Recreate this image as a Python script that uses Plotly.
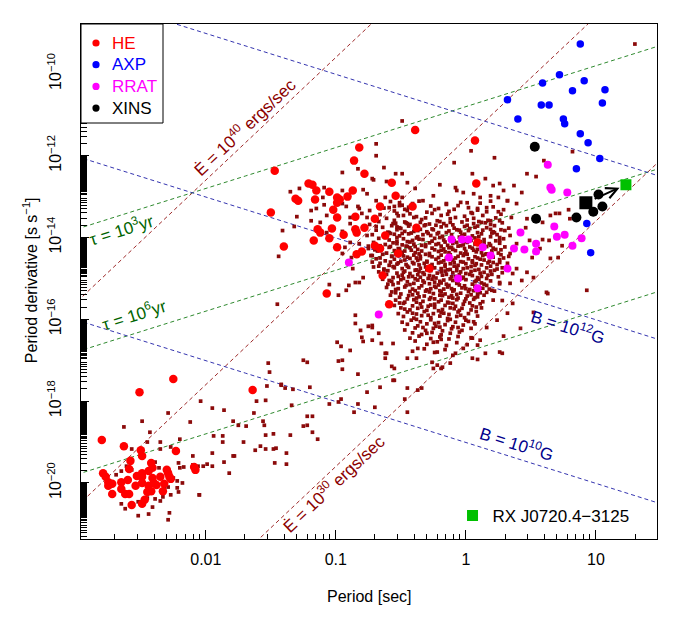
import numpy as np
import plotly.graph_objects as go

# ---------------- data: (log10 P [s], log10 Pdot [s/s]) ----------------
he_pts = [
    (-0.82, -11.80), (-0.86, -12.12), (-0.78, -12.44), (-1.47, -12.37), (-1.21, -12.68), (-1.18, -12.71),
    (-1.15, -12.85), (-1.05, -12.88), (-0.87, -12.85), (-0.57, -12.66), (-0.54, -12.98), (-1.31, -13.05),
    (-1.29, -13.10), (-1.16, -13.07), (-0.99, -13.02), (-0.97, -13.07), (-0.99, -13.15), (-0.91, -13.00),
    (-0.66, -13.24), (-1.02, -13.32), (-1.50, -13.39), (-0.99, -13.51), (-0.85, -13.49), (-0.70, -13.54),
    (-0.78, -13.76), (-1.03, -13.78), (-1.14, -13.80), (-1.12, -13.88), (-0.85, -13.80), (-0.84, -13.88),
    (-0.94, -13.93), (-1.05, -14.02), (-1.17, -14.07), (-0.62, -13.95), (-0.70, -14.20), (-1.40, -14.22),
    (-0.99, -14.24), (-0.66, -14.27), (-0.80, -14.34), (-0.84, -14.41), (-0.52, -14.39), (-0.39, -11.37),
    (0.07, -11.63), (0.08, -12.68), (-0.41, -13.24), (-0.38, -13.76), (-0.28, -14.76), (-0.64, -14.93),
    (-0.59, -15.63), (0.09, -14.12), (-1.07, -15.37),
    (-2.25, -17.46), (-2.51, -17.78), (-1.64, -17.73), (-2.80, -18.95), (-2.63, -19.10), (-2.50, -19.20),
    (-2.49, -19.34), (-2.23, -19.22), (-2.58, -19.46), (-2.42, -19.51), (-2.44, -19.71), (-2.41, -19.63),
    (-2.59, -19.66), (-2.79, -19.76), (-2.77, -19.85), (-2.75, -19.98), (-2.72, -20.02), (-2.53, -19.83),
    (-2.49, -19.76), (-2.49, -19.85), (-2.30, -19.68), (-2.29, -19.76), (-2.28, -19.85), (-2.27, -19.90),
    (-2.65, -19.98), (-2.60, -19.93), (-2.41, -19.88), (-2.40, -20.00), (-2.35, -19.85), (-2.49, -20.00),
    (-2.54, -20.07), (-2.44, -20.07), (-2.38, -20.05), (-2.32, -20.02), (-2.65, -20.15), (-2.45, -20.22),
    (-2.42, -20.20), (-2.33, -20.20), (-2.09, -19.61), (-2.08, -19.68), (-2.72, -20.27), (-2.62, -20.27),
    (-2.59, -20.27), (-2.47, -20.41), (-2.57, -20.54), (-2.49, -20.51), (-2.75, -20.07),
]
axp_pts = [
    (0.88, -9.27), (0.72, -10.02), (0.59, -10.22), (0.91, -10.17), (0.82, -10.41), (1.07, -10.39),
    (0.32, -10.63), (0.58, -10.76), (0.64, -10.76), (1.05, -10.71), (0.40, -11.10), (0.75, -11.10),
    (0.76, -11.22), (0.88, -11.46), (0.94, -11.68), (1.03, -12.07), (0.85, -12.32), (0.93, -13.66),
    (0.96, -14.37),
]
rrat_pts = [
    (0.63, -12.22), (0.65, -12.78), (0.66, -12.83), (0.78, -12.90), (0.68, -13.73), (0.42, -13.88),
    (0.70, -13.98), (0.76, -13.93), (0.89, -14.02), (0.82, -14.20), (0.54, -14.15), (0.54, -14.34),
    (0.37, -14.27), (0.45, -14.29), (0.13, -14.24), (0.19, -14.44), (-0.11, -14.05), (-0.03, -14.05),
    (0.02, -14.05), (0.32, -14.76), (-0.06, -15.00), (0.09, -15.24), (-0.13, -14.49), (-0.90, -14.61),
    (-0.67, -15.88),
]
xins_pts = [
    (0.53, -11.78), (0.54, -13.54), (0.85, -13.51), (1.02, -12.95), (0.98, -13.37), (1.05, -13.24),
]
rxj_observed = [(0.923, -13.15)]
rxj_implied = [(1.231, -12.71)]

msp_pts = [
    (-2.63, -18.63), (-2.49, -18.49), (-2.29, -18.29), (-2.04, -18.00), (-1.95, -18.17), (-1.86, -18.22),
    (-2.12, -18.51), (-2.43, -18.76), (-2.35, -19.00), (-2.20, -18.93), (-2.45, -19.00), (-2.57, -19.17),
    (-2.35, -19.17), (-2.27, -19.12), (-2.50, -19.37), (-2.69, -19.80), (-2.65, -19.71), (-2.61, -19.59),
    (-2.57, -19.68), (-2.39, -19.49), (-2.36, -19.63), (-2.21, -19.51), (-2.17, -19.61), (-2.10, -19.56),
    (-2.06, -19.59), (-2.20, -19.63), (-2.25, -19.88), (-2.22, -19.95), (-2.18, -20.00), (-2.32, -20.12),
    (-2.29, -20.10), (-2.22, -20.12), (-2.21, -20.22), (-2.05, -20.29), (-2.27, -20.29), (-2.33, -20.34),
    (-2.42, -20.24), (-2.45, -20.37), (-2.39, -20.39), (-2.35, -20.44), (-2.41, -20.59), (-2.52, -20.46),
    (-2.65, -20.51), (-2.62, -20.63), (-2.52, -20.80), (-2.44, -20.76), (-2.28, -20.73), (-2.29, -20.90),
    (-2.10, -19.34), (-2.02, -19.59), (-1.95, -19.59), (-1.79, -18.49), (-1.75, -18.59), (-1.69, -18.61),
    (-1.63, -18.29), (-1.61, -18.00), (-1.54, -17.98), (-1.52, -17.07), (-1.51, -17.29), (-1.53, -17.63),
    (-1.56, -18.49), (-1.55, -18.59), (-1.48, -18.80), (-1.54, -18.83), (-1.87, -18.85), (-1.94, -18.85),
    (-1.71, -19.00), (-1.62, -19.20), (-1.58, -19.10), (-1.54, -19.17), (-1.48, -19.17), (-1.87, -19.00),
    (-1.95, -19.27), (-1.79, -19.34), (-1.78, -19.34), (-1.86, -19.49), (-1.82, -19.76), (-1.99, -19.54),
    (-2.05, -20.29), (-1.46, -19.15), (-1.47, -19.51),
]
mid_pts = [
    (-1.45, -15.63), (-1.25, -17.00), (-1.22, -17.05), (-0.99, -16.56), (-0.96, -16.66), (-0.98, -17.02),
    (-0.95, -17.00), (-0.95, -17.22), (-0.83, -17.34), (-1.20, -17.66), (-1.42, -17.59), (-1.39, -17.68),
    (-1.34, -18.10), (-1.22, -18.37), (-1.18, -18.37), (-1.05, -18.07), (-0.96, -17.95), (-0.86, -18.27),
    (-0.76, -17.78), (-0.70, -18.15), (-0.66, -17.66), (-0.56, -17.49), (-0.45, -17.68), (-0.34, -17.68),
    (-0.47, -17.95), (-0.90, -15.17), (-1.05, -15.15), (-0.98, -15.41), (-0.82, -15.10), (-0.85, -15.90),
    (-0.85, -16.10), (-0.81, -16.27), (-0.79, -16.54), (-0.75, -16.17), (-0.72, -16.15), (-0.67, -16.34),
    (-0.65, -16.59), (-0.62, -16.83), (-0.62, -16.95), (-0.57, -17.15), (-0.55, -17.20), (-0.55, -17.49),
    (-0.45, -16.95), (-0.38, -16.95), (-0.37, -16.71), (-0.30, -16.34), (-0.25, -16.56), (-0.19, -16.49),
    (-0.25, -17.20), (-0.22, -17.12), (-0.18, -17.17), (-0.10, -16.88), (-1.42, -17.61), (-1.33, -17.71),
    (-1.35, -18.83), (-1.25, -18.61), (-1.22, -18.59), (-1.18, -18.76), (-1.14, -18.93), (-1.38, -19.27),
    (-1.38, -19.54), (-0.98, -18.02), (-0.83, -18.07), (-0.45, -18.27), (-0.37, -17.73), (-0.12, -17.07),
    (-0.26, -17.05),
]
young_pts = [
    (-0.69, -11.71), (-0.69, -12.00), (-0.63, -12.29), (-0.83, -12.32), (-0.95, -12.41), (-0.72, -12.56),
    (-0.71, -12.59), (-0.54, -12.44), (-0.49, -12.44), (-0.61, -12.63), (-1.35, -12.88), (-1.28, -12.80),
    (-1.09, -12.78), (-1.10, -13.02), (-0.95, -12.85), (-0.79, -12.83), (-0.76, -12.93), (-0.69, -13.10),
    (-0.62, -13.02), (-0.49, -13.02), (-0.51, -13.15), (-1.09, -13.20), (-1.19, -13.34), (-1.15, -13.29),
    (-0.92, -13.24), (-0.83, -13.24), (-0.80, -13.41), (-1.30, -13.49), (-1.07, -13.46), (-0.74, -13.34),
    (-0.59, -13.27), (-0.55, -13.24), (-0.53, -13.41), (-0.48, -13.46), (-0.45, -13.34), (-1.19, -13.59),
    (-1.12, -13.63), (-0.89, -13.66), (-0.74, -13.68), (-0.69, -13.73), (-0.56, -13.66), (-0.51, -13.76),
    (-0.45, -13.66), (-1.41, -13.83), (-1.32, -13.73), (-1.07, -13.88), (-0.95, -13.85), (-0.76, -13.95),
    (-0.59, -13.88), (-0.53, -14.00), (-0.49, -13.90), (-0.89, -14.12), (-0.82, -14.15), (-0.75, -14.27),
    (-0.52, -14.27), (-0.45, -14.22), (-1.44, -14.46), (-0.95, -14.39), (-0.88, -14.49), (-0.72, -14.44),
    (-0.57, -14.46), (-0.49, -14.39), (-0.49, -11.15), (-0.95, -13.17), (-0.89, -13.51), (-0.82, -13.29),
    (-0.76, -13.51), (-0.93, -14.24), (-0.87, -14.76), (-0.79, -14.98), (-0.85, -15.10), (-0.92, -15.29),
    (-0.72, -16.20), (-0.80, -16.44), (-0.72, -16.51), (-0.89, -16.76), (-0.61, -16.83), (-0.56, -16.59),
    (-0.45, -12.66), (-0.39, -12.80), (-0.20, -12.71), (-0.07, -12.85), (-0.25, -12.98), (-0.33, -13.10),
    (-0.15, -13.17), (0.01, -13.15), (0.16, -13.27), (0.32, -13.10), (-0.51, -13.22),
]
right_pts = [
    (0.22, -12.05), (0.05, -12.44), (0.15, -12.56), (0.21, -12.73), (0.26, -12.68), (0.29, -12.85),
    (0.37, -12.73), (0.43, -12.90), (0.47, -12.44), (0.54, -12.51), (0.60, -12.12), (-0.09, -12.17),
    (-0.08, -12.78), (-0.02, -12.90), (0.06, -12.93), (0.11, -13.02), (0.19, -12.98), (0.25, -13.02),
    (0.32, -13.10), (0.39, -13.17), (0.09, -13.29), (0.16, -13.37), (0.29, -13.32), (0.35, -13.51),
    (0.26, -13.59), (0.19, -13.59), (0.12, -13.63), (0.47, -13.54), (0.59, -13.63), (0.65, -13.46),
    (0.72, -13.41), (0.79, -13.32), (0.69, -13.41), (0.80, -13.54), (0.46, -13.76), (0.30, -13.83),
    (0.22, -13.88), (0.59, -14.05), (0.64, -14.07), (0.49, -14.07), (0.39, -14.15), (0.26, -14.07),
    (0.74, -14.20), (0.57, -14.27), (0.51, -14.49), (0.65, -14.51), (0.71, -14.49), (0.34, -14.39),
    (0.26, -14.61), (0.39, -14.76), (0.47, -14.85), (0.52, -14.98), (0.62, -15.34), (0.93, -15.29),
    (0.34, -15.12), (0.20, -15.29), (0.26, -15.10), (0.36, -14.88), (0.43, -15.05), (0.28, -15.54),
    (0.36, -15.61), (0.24, -16.02), (0.16, -16.20), (0.29, -16.41), (0.11, -16.51), (0.26, -16.80),
    (0.15, -16.83), (0.05, -16.95), (0.63, -15.37), (0.42, -16.22), (0.28, -16.83), (0.09, -16.98),
    (-0.19, -17.20), (0.52, -15.83), (0.32, -15.85), (0.09, -16.63), (0.05, -16.46), (-0.02, -16.71),
    (-0.22, -16.80), (1.30, -9.27), (0.82, -11.90), (0.04, -11.88),
]
core_pts = [
    (-0.58, -13.12), (-0.41, -13.17), (-0.36, -13.11), (-0.15, -13.19), (-0.04, -13.14), (0.11, -13.16), (0.19, -13.11),
    (-0.63, -13.28), (-0.49, -13.21), (-0.44, -13.26), (-0.27, -13.23), (-0.21, -13.29), (-0.06, -13.22), (0.02, -13.27), (0.21, -13.25),
    (-0.55, -13.35), (-0.47, -13.31), (-0.30, -13.38), (-0.24, -13.32), (-0.13, -13.36), (-0.09, -13.31), (0.04, -13.39), (0.09, -13.33), (0.25, -13.37),
    (-0.66, -13.44), (-0.52, -13.47), (-0.43, -13.42), (-0.38, -13.49), (-0.26, -13.41), (-0.19, -13.46), (-0.14, -13.43), (-0.01, -13.48), (0.05, -13.41), (0.13, -13.46), (0.27, -13.43),
    (-0.61, -13.53), (-0.55, -13.58), (-0.40, -13.51), (-0.34, -13.56), (-0.31, -13.52), (-0.22, -13.59), (-0.12, -13.54), (-0.08, -13.51), (0.01, -13.57), (0.06, -13.53), (0.17, -13.58), (0.23, -13.52),
    (-0.67, -13.61), (-0.54, -13.65), (-0.47, -13.62), (-0.43, -13.68), (-0.35, -13.63), (-0.28, -13.67), (-0.20, -13.61), (-0.17, -13.66), (-0.10, -13.69), (-0.03, -13.62), (0.06, -13.66), (0.10, -13.61), (0.19, -13.68), (0.28, -13.64),
    (-0.64, -13.75), (-0.57, -13.71), (-0.50, -13.78), (-0.44, -13.72), (-0.39, -13.76), (-0.32, -13.71), (-0.26, -13.79), (-0.19, -13.74), (-0.15, -13.71), (-0.09, -13.77), (-0.01, -13.73), (0.03, -13.78), (0.09, -13.72), (0.16, -13.76), (0.22, -13.71), (0.33, -13.77),
    (-0.69, -13.82), (-0.60, -13.87), (-0.53, -13.81), (-0.47, -13.85), (-0.42, -13.89), (-0.37, -13.83), (-0.30, -13.86), (-0.25, -13.81), (-0.21, -13.88), (-0.13, -13.84), (-0.07, -13.81), (-0.04, -13.87), (0.02, -13.83), (0.09, -13.88), (0.13, -13.82), (0.21, -13.86), (0.27, -13.81),
    (-0.72, -13.93), (-0.63, -13.97), (-0.55, -13.92), (-0.51, -13.96), (-0.44, -13.91), (-0.37, -13.98), (-0.33, -13.93), (-0.27, -13.95), (-0.22, -13.91), (-0.18, -13.97), (-0.11, -13.93), (-0.05, -13.99), (-0.01, -13.92), (0.05, -13.96), (0.12, -13.91), (0.19, -13.98), (0.24, -13.93), (0.34, -13.95),
    (-0.67, -14.02), (-0.59, -14.06), (-0.53, -14.09), (-0.48, -14.03), (-0.41, -14.07), (-0.38, -14.01), (-0.33, -14.05), (-0.26, -14.09), (-0.24, -14.02), (-0.17, -14.06), (-0.12, -14.01), (-0.09, -14.08), (-0.03, -14.04), (0.04, -14.07), (0.07, -14.01), (0.14, -14.05), (0.23, -14.08), (0.29, -14.03),
    (-0.71, -14.12), (-0.62, -14.17), (-0.56, -14.13), (-0.49, -14.18), (-0.43, -14.11), (-0.40, -14.16), (-0.34, -14.19), (-0.28, -14.13), (-0.23, -14.17), (-0.16, -14.11), (-0.14, -14.19), (-0.10, -14.14), (-0.02, -14.18), (0.01, -14.12), (0.07, -14.16), (0.14, -14.13), (0.19, -14.19), (0.26, -14.14),
    (-0.75, -14.21), (-0.65, -14.26), (-0.58, -14.22), (-0.51, -14.28), (-0.46, -14.21), (-0.43, -14.25), (-0.37, -14.29), (-0.31, -14.22), (-0.26, -14.26), (-0.19, -14.21), (-0.17, -14.28), (-0.11, -14.24), (-0.06, -14.21), (-0.01, -14.27), (0.03, -14.23), (0.09, -14.29), (0.16, -14.22), (0.21, -14.26), (0.30, -14.23),
    (-0.68, -14.33), (-0.61, -14.38), (-0.55, -14.32), (-0.49, -14.36), (-0.42, -14.31), (-0.39, -14.37), (-0.34, -14.33), (-0.28, -14.39), (-0.21, -14.34), (-0.19, -14.31), (-0.13, -14.37), (-0.08, -14.32), (-0.04, -14.38), (0.00, -14.34), (0.06, -14.31), (0.12, -14.37), (0.20, -14.33), (0.25, -14.38),
    (-0.73, -14.44), (-0.64, -14.41), (-0.57, -14.46), (-0.51, -14.42), (-0.45, -14.48), (-0.40, -14.43), (-0.35, -14.46), (-0.31, -14.41), (-0.26, -14.47), (-0.19, -14.43), (-0.14, -14.49), (-0.12, -14.42), (-0.06, -14.46), (0.01, -14.41), (0.07, -14.47), (0.13, -14.44), (0.21, -14.48), (0.27, -14.42), (0.33, -14.46),
    (-0.69, -14.52), (-0.62, -14.57), (-0.55, -14.53), (-0.50, -14.58), (-0.43, -14.51), (-0.37, -14.56), (-0.35, -14.52), (-0.30, -14.58), (-0.23, -14.53), (-0.17, -14.57), (-0.15, -14.51), (-0.10, -14.55), (-0.04, -14.59), (0.02, -14.52), (0.05, -14.57), (0.11, -14.53), (0.18, -14.58), (0.26, -14.54),
    (-0.66, -14.63), (-0.59, -14.68), (-0.52, -14.62), (-0.46, -14.66), (-0.41, -14.61), (-0.36, -14.67), (-0.32, -14.63), (-0.27, -14.69), (-0.21, -14.62), (-0.16, -14.66), (-0.09, -14.61), (-0.06, -14.68), (0.00, -14.64), (0.05, -14.61), (0.12, -14.67), (0.17, -14.62), (0.24, -14.66), (0.32, -14.63),
    (-0.71, -14.72), (-0.63, -14.77), (-0.56, -14.71), (-0.49, -14.76), (-0.44, -14.73), (-0.38, -14.79), (-0.31, -14.72), (-0.29, -14.77), (-0.24, -14.74), (-0.16, -14.71), (-0.12, -14.78), (-0.07, -14.73), (-0.02, -14.76), (0.04, -14.71), (0.10, -14.78), (0.16, -14.74), (0.24, -14.77),
    (-0.67, -14.84), (-0.60, -14.81), (-0.53, -14.87), (-0.47, -14.82), (-0.43, -14.88), (-0.36, -14.83), (-0.33, -14.86), (-0.27, -14.81), (-0.22, -14.87), (-0.16, -14.82), (-0.10, -14.86), (-0.07, -14.81), (0.00, -14.88), (0.04, -14.83), (0.11, -14.87), (0.19, -14.82), (0.28, -14.86),
    (-0.63, -14.93), (-0.56, -14.98), (-0.49, -14.92), (-0.44, -14.96), (-0.37, -14.91), (-0.35, -14.97), (-0.28, -14.93), (-0.23, -14.99), (-0.18, -14.92), (-0.11, -14.96), (-0.05, -14.91), (-0.02, -14.97), (0.05, -14.93), (0.09, -14.98), (0.17, -14.92), (0.25, -14.96),
    (-0.64, -15.02), (-0.57, -15.07), (-0.50, -15.03), (-0.45, -15.08), (-0.39, -15.01), (-0.33, -15.06), (-0.26, -15.02), (-0.24, -15.09), (-0.17, -15.04), (-0.12, -15.01), (-0.06, -15.07), (0.00, -15.03), (0.07, -15.08), (0.10, -15.02), (0.19, -15.06),
    (-0.60, -15.14), (-0.52, -15.11), (-0.46, -15.17), (-0.40, -15.12), (-0.34, -15.18), (-0.28, -15.13), (-0.21, -15.16), (-0.19, -15.11), (-0.13, -15.17), (-0.07, -15.12), (-0.01, -15.18), (0.05, -15.14), (0.12, -15.11), (0.16, -15.17), (0.26, -15.13),
    (-0.61, -15.22), (-0.54, -15.27), (-0.47, -15.21), (-0.41, -15.26), (-0.36, -15.23), (-0.30, -15.28), (-0.23, -15.22), (-0.17, -15.26), (-0.14, -15.21), (-0.09, -15.28), (-0.03, -15.23), (0.03, -15.27), (0.10, -15.22), (0.18, -15.26),
    (-0.57, -15.33), (-0.50, -15.38), (-0.43, -15.32), (-0.37, -15.36), (-0.31, -15.31), (-0.25, -15.37), (-0.19, -15.33), (-0.16, -15.38), (-0.10, -15.31), (-0.04, -15.36), (0.02, -15.32), (0.09, -15.38), (0.16, -15.34), (0.22, -15.31),
    (-0.58, -15.41), (-0.51, -15.46), (-0.44, -15.42), (-0.38, -15.48), (-0.32, -15.43), (-0.27, -15.47), (-0.20, -15.41), (-0.13, -15.46), (-0.11, -15.42), (-0.06, -15.48), (0.01, -15.43), (0.07, -15.47), (0.14, -15.41),
    (-0.54, -15.53), (-0.47, -15.58), (-0.40, -15.52), (-0.33, -15.56), (-0.28, -15.51), (-0.21, -15.57), (-0.19, -15.53), (-0.14, -15.58), (-0.07, -15.52), (-0.01, -15.56), (0.06, -15.51), (0.13, -15.57), (0.21, -15.53),
    (-0.55, -15.66), (-0.48, -15.61), (-0.41, -15.67), (-0.35, -15.62), (-0.29, -15.68), (-0.24, -15.63), (-0.16, -15.66), (-0.10, -15.61), (-0.08, -15.68), (-0.02, -15.63), (0.05, -15.67), (0.11, -15.62),
    (-0.50, -15.72), (-0.43, -15.77), (-0.37, -15.73), (-0.30, -15.78), (-0.24, -15.71), (-0.18, -15.76), (-0.12, -15.72), (-0.05, -15.78), (-0.03, -15.73), (0.04, -15.77), (0.12, -15.72),
    (-0.52, -15.86), (-0.45, -15.82), (-0.38, -15.87), (-0.32, -15.81), (-0.25, -15.86), (-0.19, -15.83), (-0.13, -15.88), (-0.06, -15.82), (0.02, -15.86), (0.08, -15.81),
    (-0.48, -15.93), (-0.40, -15.97), (-0.34, -15.91), (-0.27, -15.96), (-0.20, -15.92), (-0.14, -15.98), (-0.07, -15.93), (-0.01, -15.96), (0.09, -15.92),
    (-0.49, -16.07), (-0.42, -16.02), (-0.35, -16.06), (-0.27, -16.01), (-0.21, -16.08), (-0.14, -16.03), (-0.08, -16.07), (0.00, -16.02), (0.06, -16.06),
    (-0.45, -16.12), (-0.37, -16.16), (-0.30, -16.11), (-0.23, -16.17), (-0.16, -16.13), (-0.10, -16.18), (-0.02, -16.14), (0.07, -16.11),
    (-0.47, -16.26), (-0.39, -16.21), (-0.31, -16.27), (-0.25, -16.22), (-0.18, -16.28), (-0.11, -16.23), (-0.03, -16.27), (0.04, -16.22),
    (-0.41, -16.33), (-0.34, -16.37), (-0.26, -16.32), (-0.19, -16.38), (-0.12, -16.34), (-0.05, -16.31),
    (-0.43, -16.46), (-0.36, -16.41), (-0.27, -16.47), (-0.20, -16.43), (-0.13, -16.48), (-0.06, -16.42), (0.04, -16.45),
    (-0.39, -16.53), (-0.30, -16.61), (-0.22, -16.55), (-0.15, -16.64), (-0.07, -16.57), (0.01, -16.62),
    (-0.41, -16.78), (-0.32, -16.72), (-0.24, -16.81), (-0.16, -16.74), (-0.08, -16.83),
]
core_fill_pts = [
    (-0.46, -13.64), (-0.31, -13.69), (-0.12, -13.63), (0.01, -13.70), (0.15, -13.64),
    (-0.53, -13.74), (-0.35, -13.80), (-0.23, -13.70), (-0.05, -13.82), (0.07, -13.75), (0.19, -13.80),
    (-0.58, -13.90), (-0.40, -13.85), (-0.29, -13.90), (-0.15, -13.88), (-0.03, -13.95), (0.10, -13.98), (0.20, -13.89),
    (-0.62, -14.00), (-0.45, -14.10), (-0.36, -14.04), (-0.20, -14.00), (-0.07, -14.12), (0.00, -14.09), (0.11, -14.10), (0.26, -14.00),
    (-0.66, -14.20), (-0.53, -14.15), (-0.39, -14.22), (-0.31, -14.18), (-0.21, -14.15), (-0.13, -14.25), (-0.04, -14.20), (0.05, -14.26), (0.18, -14.15), (0.27, -14.30),
    (-0.70, -14.30), (-0.59, -14.24), (-0.47, -14.33), (-0.36, -14.40), (-0.24, -14.30), (-0.16, -14.35), (-0.10, -14.29), (-0.01, -14.40), (0.08, -14.35), (0.15, -14.41), (0.23, -14.29),
    (-0.66, -14.50), (-0.54, -14.40), (-0.48, -14.45), (-0.38, -14.50), (-0.28, -14.44), (-0.21, -14.49), (-0.08, -14.50), (-0.02, -14.44), (0.09, -14.50), (0.16, -14.40), (0.29, -14.50),
    (-0.72, -14.60), (-0.58, -14.60), (-0.47, -14.55), (-0.40, -14.64), (-0.30, -14.60), (-0.19, -14.60), (-0.12, -14.64), (-0.02, -14.60), (0.08, -14.64), (0.14, -14.55), (0.21, -14.61),
    (-0.67, -14.70), (-0.53, -14.65), (-0.45, -14.70), (-0.35, -14.75), (-0.26, -14.66), (-0.19, -14.76), (-0.09, -14.70), (0.01, -14.74), (0.07, -14.68), (0.19, -14.70), (0.28, -14.74),
    (-0.63, -14.80), (-0.55, -14.74), (-0.48, -14.85), (-0.39, -14.80), (-0.30, -14.79), (-0.19, -14.84), (-0.14, -14.79), (-0.04, -14.84), (0.07, -14.80), (0.14, -14.85), (0.22, -14.80),
    (-0.61, -14.90), (-0.52, -14.95), (-0.41, -14.95), (-0.32, -14.90), (-0.25, -14.95), (-0.15, -14.90), (-0.08, -14.95), (0.03, -14.90), (0.12, -14.95), (0.20, -14.90),
    (-0.59, -15.05), (-0.48, -15.00), (-0.37, -15.04), (-0.29, -15.00), (-0.20, -15.07), (-0.10, -15.05), (-0.03, -15.00), (0.08, -15.05), (0.16, -15.00),
    (-0.56, -15.15), (-0.43, -15.15), (-0.32, -15.10), (-0.24, -15.19), (-0.15, -15.14), (-0.05, -15.16), (0.07, -15.19), (0.14, -15.14),
    (-0.52, -15.25), (-0.39, -15.30), (-0.27, -15.25), (-0.20, -15.30), (-0.11, -15.25), (0.00, -15.25), (0.06, -15.30), (0.13, -15.24),
    (-0.54, -15.35), (-0.41, -15.40), (-0.28, -15.33), (-0.18, -15.42), (-0.07, -15.39), (0.04, -15.40), (0.11, -15.35),
    (-0.45, -15.50), (-0.36, -15.45), (-0.24, -15.50), (-0.10, -15.48), (0.00, -15.50), (0.09, -15.45),
    (-0.51, -15.60), (-0.38, -15.58), (-0.27, -15.65), (-0.13, -15.60), (0.03, -15.60),
    (-0.47, -15.75), (-0.34, -15.70), (-0.21, -15.79), (-0.09, -15.74), (0.08, -15.70),
    (-0.41, -15.85), (-0.29, -15.90), (-0.17, -15.85), (-0.04, -15.90),
    (-0.38, -16.00), (-0.24, -16.10), (-0.12, -16.00), (0.02, -16.05),
    (-0.33, -16.20), (-0.20, -16.19), (-0.06, -16.20),
]

# reference lines
tau_years = [1e3, 1e6, 1e9]
b_fields = [1e10, 1e12, 1e14]
edot_values = [1e30, 1e35, 1e40]

x_ticks = [0.01, 0.1, 1, 10]
x_tick_text = ["0.01", "0.1", "1", "10"]
y_exponents = [10, 12, 14, 16, 18, 20]

legend_names = ["HE", "AXP", "RRAT", "XINS"]
legend_colors = ["#FF0000", "#0000FF", "#FF00FF", "#000000"]

# ---------------- figure ----------------
FONT = "Liberation Sans, Arial, Helvetica, sans-serif"
C_EDOT, C_TAU, C_B = "#9E2A2A", "#2F8A2F", "#3535B0"
T_EDOT, T_TAU, T_B = "#8B0000", "#006400", "#00008B"

PLOT_W, PLOT_H = 576, 515   # plot-area size in px


def unpack(pts):
    a = np.array(pts, dtype=float)
    return 10 ** a[:, 0], 10 ** a[:, 1]


fig = go.Figure()

P = np.logspace(-3.3, 1.8, 300)
dash = "4px,3px"
for e in edot_values:
    fig.add_trace(go.Scatter(x=P, y=e * P ** 3 / (4 * np.pi ** 2 * 1e45), mode="lines",
                             line=dict(color=C_EDOT, width=1, dash=dash), showlegend=False, hoverinfo="skip"))
for t in tau_years:
    fig.add_trace(go.Scatter(x=P, y=P / (2 * t * 3.156e7), mode="lines",
                             line=dict(color=C_TAU, width=1, dash=dash), showlegend=False, hoverinfo="skip"))
for b in b_fields:
    fig.add_trace(go.Scatter(x=P, y=(b / 3.2e19) ** 2 / P, mode="lines",
                             line=dict(color=C_B, width=1, dash=dash), showlegend=False, hoverinfo="skip"))

all_small = msp_pts + mid_pts + young_pts + right_pts + core_pts + core_fill_pts
sx, sy = unpack(all_small)
fig.add_trace(go.Scatter(x=sx, y=sy, mode="markers", showlegend=False, hoverinfo="skip",
                         marker=dict(symbol="square", size=3.7, color="#8B0A0A", line=dict(width=0))))

groups = [
    ("HE", he_pts, "#FF0000", 8.5),
    ("AXP", axp_pts, "#0000FF", 7.5),
    ("RRAT", rrat_pts, "#FF00FF", 8),
    ("XINS", xins_pts, "#000000", 10),
]
for name, pts, col, sz in groups:
    gx, gy = unpack(pts)
    fig.add_trace(go.Scatter(x=gx, y=gy, mode="markers", name=name, showlegend=False,
                             marker=dict(color=col, size=sz, line=dict(width=0))))

ox, oy = unpack(rxj_observed)
fig.add_trace(go.Scatter(x=ox, y=oy, mode="markers", showlegend=False,
                         marker=dict(symbol="square", color="black", size=13, line=dict(width=0))))
ix, iy = unpack(rxj_implied)
fig.add_trace(go.Scatter(x=ix, y=iy, mode="markers", name="RX J0720.4\u22123125", legend="legend2",
                         marker=dict(symbol="square", color="#00C000", size=11, line=dict(width=0))))

annotations = [
    dict(x=rxj_implied[0][0], y=rxj_implied[0][1], ax=rxj_observed[0][0], ay=rxj_observed[0][1],
         xref="x", yref="y", axref="x", ayref="y", text="", showarrow=True,
         arrowhead=5, arrowsize=1.1, arrowwidth=2, arrowcolor="black", standoff=7, startstandoff=8),
    dict(x=-1.71, y=-11.29, text="\u0116 = 10<sup>40</sup> ergs/sec", textangle=-43.4,
         font=dict(color=T_EDOT, size=17, family=FONT), showarrow=False, xref="x", yref="y"),
    dict(x=-1.02, y=-20.0, text="\u0116 = 10<sup>30</sup> ergs/sec", textangle=-43.4,
         font=dict(color=T_EDOT, size=17, family=FONT), showarrow=False, xref="x", yref="y"),
    dict(x=-2.65, y=-13.78, text="\u03c4 = 10<sup>3</sup>yr", textangle=-17.5,
         font=dict(color=T_TAU, size=17, family=FONT), showarrow=False, xref="x", yref="y"),
    dict(x=-2.55, y=-15.88, text="\u03c4 = 10<sup>6</sup>yr", textangle=-17.5,
         font=dict(color=T_TAU, size=17, family=FONT), showarrow=False, xref="x", yref="y"),
    dict(x=0.785, y=-16.17, text="B = 10<sup>12</sup>G", textangle=17.5,
         font=dict(color=T_B, size=17, family=FONT), showarrow=False, xref="x", yref="y"),
    dict(x=0.392, y=-19.02, text="B = 10<sup>10</sup>G", textangle=17.5,
         font=dict(color=T_B, size=17, family=FONT), showarrow=False, xref="x", yref="y"),
    dict(x=0.5, y=-0.132, xref="paper", yref="paper", text="Period [sec]", showarrow=False,
         font=dict(size=16, family=FONT, color="black")),
    dict(x=-0.109, y=0.503, xref="paper", yref="paper", text="Period derivative [s s<sup>\u22121</sup>]",
         textangle=-90, showarrow=False, font=dict(size=16, family=FONT, color="black")),
]

# boxed legend in the top-left corner (R style)
shapes = [dict(type="rect", xref="paper", yref="paper", x0=0, x1=82 / PLOT_W, y0=1 - 99 / PLOT_H, y1=1,
               line=dict(color="black", width=1), fillcolor="white", layer="above")]
for i, (nm, col) in enumerate(zip(legend_names, legend_colors)):
    yc = 1 - (19 + 21.7 * i) / PLOT_H
    shapes.append(dict(type="circle", xref="paper", yref="paper", xsizemode="pixel", ysizemode="pixel",
                       xanchor=15 / PLOT_W, yanchor=yc, x0=-3.6, x1=3.6, y0=-3.6, y1=3.6,
                       fillcolor=col, line=dict(width=0), layer="above"))
    annotations.append(dict(x=29 / PLOT_W, y=yc, xref="paper", yref="paper", xanchor="left",
                            yanchor="middle", text=nm, showarrow=False,
                            font=dict(size=17, family=FONT, color=col)))

x_minor = [k * 10.0 ** d for d in range(-3, 2) for k in range(2, 10)]
y_minor = []
for n in range(8, 24, 2):
    y_minor += [k * 10.0 ** -(n + 2) for k in range(11, 100)]
    y_minor += [k * 10.0 ** -(n + 2) for k in range(2, 10)]

# page body adds an 8px margin, so the figure is 16px smaller than the window
fig.update_layout(
    width=660, height=610,
    margin=dict(l=73, r=11, t=16, b=79, autoexpand=False),
    paper_bgcolor="white", plot_bgcolor="white",
    font=dict(family=FONT, color="black"),
    annotations=annotations,
    shapes=shapes,
    showlegend=True,
    legend2=dict(x=0.645, y=0.045, xanchor="left", yanchor="middle", bgcolor="rgba(0,0,0,0)",
                 font=dict(size=17, family=FONT, color="black"), itemwidth=30),
    xaxis=dict(type="log", range=[-2.96, 1.47], showgrid=False, zeroline=False, automargin=False,
               showline=True, linecolor="black", linewidth=1.3, mirror=True,
               ticks="inside", ticklen=9, tickwidth=1, tickcolor="black",
               tickmode="array", tickvals=x_ticks, ticktext=x_tick_text,
               tickfont=dict(size=16, family=FONT), ticklabelstandoff=6,
               minor=dict(tickmode="array", tickvals=x_minor, ticks="inside", ticklen=5,
                          tickcolor="black", showgrid=False)),
    yaxis=dict(type="log", range=[-21.37, -8.78], showgrid=False, zeroline=False, automargin=False,
               showline=True, linecolor="black", linewidth=1.3, mirror=True,
               ticks="inside", ticklen=8, tickwidth=1, tickcolor="black",
               tickmode="array", tickvals=[10.0 ** -n for n in y_exponents],
               ticktext=[f"10<sup>\u2212{n}</sup>" for n in y_exponents],
               tickangle=-90, tickfont=dict(size=16, family=FONT), ticklabelstandoff=12,
               minor=dict(tickmode="array", tickvals=y_minor, ticks="inside", ticklen=6,
                          tickcolor="black", showgrid=False)),
)

fig.write_html("out.html")
